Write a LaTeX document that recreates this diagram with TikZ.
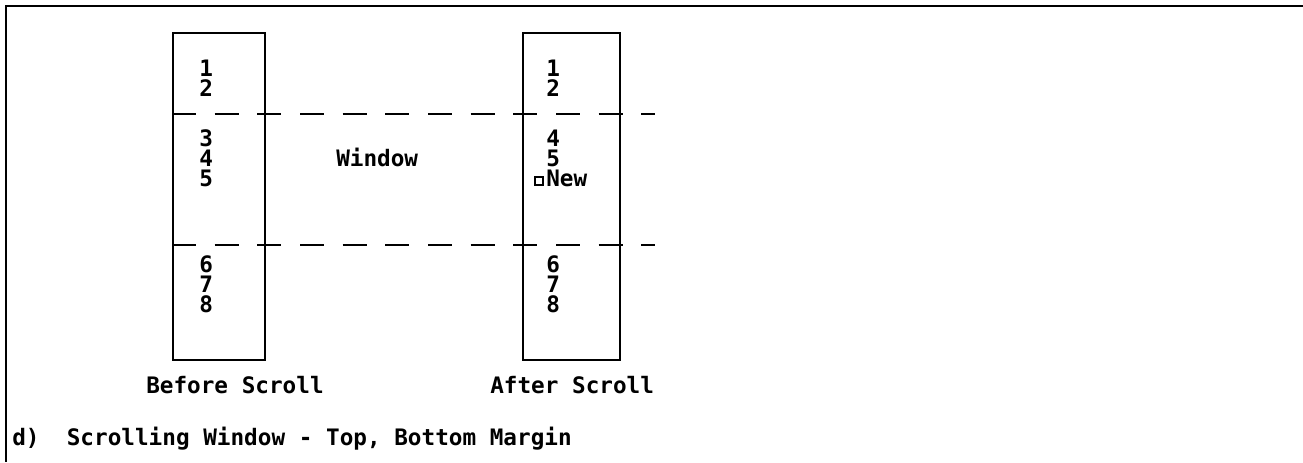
\documentclass[tikz,border=0pt]{standalone}
\usepackage{fontspec}
\setmainfont{DejaVu Sans Mono}
\begin{document}
\begin{tikzpicture}[x=0.75pt,y=-0.75pt,
  panel/.style={draw,line width=1.5pt,minimum height=245pt,inner sep=0pt,anchor=north west},
  stack/.style={anchor=north west,inner sep=0pt,align=left,font=\fontsize{17}{15}\selectfont\bfseries},
  lbl/.style={anchor=base west,inner sep=0pt,font=\fontsize{17}{20}\selectfont\bfseries},
  dashline/.style={line width=1.5pt,dash pattern=on 18pt off 14pt}]
\useasboundingbox (0,0) rectangle (1303,462);
% frame
\coordinate (ftr) at (1303,6);
\coordinate (ftl) at (6,6);
\coordinate (fbl) at (6,462);
\draw[line width=2pt] (ftr) -- (ftl) -- (fbl);
% boxes
\node[panel,minimum width=69pt] (lb) at (172,32) {};
\node[panel,minimum width=73pt] (rb) at (522,32) {};
% dashed lines
\coordinate (u1) at (172,114);
\coordinate (u2) at (655,114);
\coordinate (d1) at (172,245);
\coordinate (d2) at (655,245);
\draw[dashline] (u1) -- (u2);
\draw[dashline] (d1) -- (d2);
% left column
\node[stack] (ltop) at (199,59.5) {1\\2};
\node[stack] (lwin) at (199,129.5) {3\\4\\5};
\node[stack] (lbot) at (199,255.5) {6\\7\\8};
% right column
\node[stack] (rtop) at (546,59.5) {1\\2};
\node[stack] (rwin) at (546,129.5) {4\\5\\New};
\node[draw,line width=1pt,minimum width=6pt,minimum height=6pt,inner sep=0pt] (sq) at (539,181) {};
\node[stack] (rbot) at (546,255.5) {6\\7\\8};
% labels
\node[lbl] (win) at (336,166) {Window};
\node[lbl] (bs) at (146,393) {Before Scroll};
\node[lbl] (as) at (490,393) {After Scroll};
\node[lbl] (cap) at (12,445) {d)~~Scrolling Window - Top, Bottom Margin};
\end{tikzpicture}
\end{document}
